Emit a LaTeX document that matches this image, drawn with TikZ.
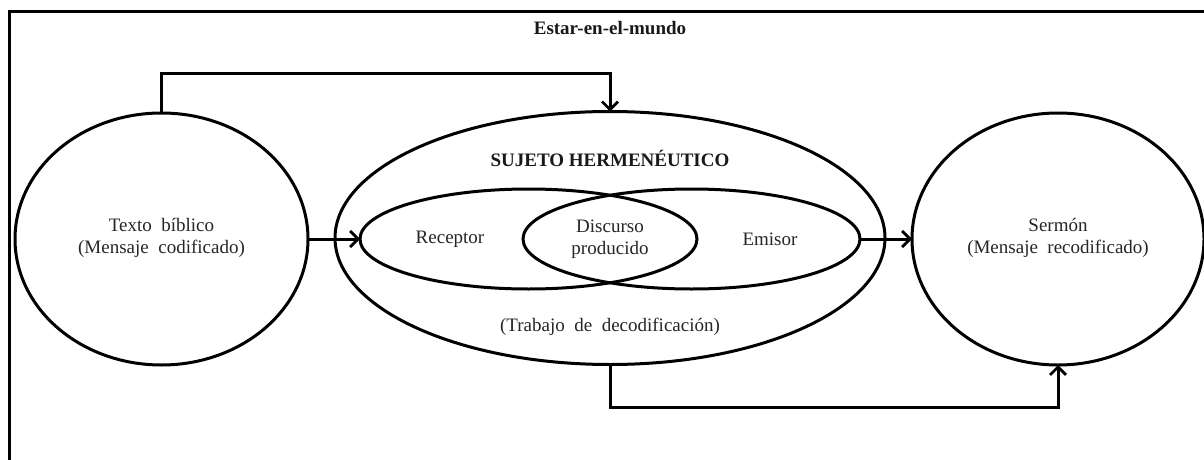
\documentclass[tikz,border=0pt]{standalone}
\usepackage{fontspec}
\setmainfont{Liberation Serif}
\usetikzlibrary{shapes.geometric,arrows.meta}
\tikzset{
  shp/.style={ellipse, draw, line width=3pt, inner sep=0pt, outer sep=0pt},
  conn/.style={line width=3pt, -{Straight Barb[length=8pt,width=16pt,line width=2.8pt]}},
  txt/.style={align=center, font=\fontsize{19}{22}\selectfont, text=black!85},
  btxt/.style={align=center, font=\fontsize{19}{22}\selectfont\bfseries, text=black!90}
}
\begin{document}
\begin{tikzpicture}[x=1pt,y=-1pt]
\clip (0,0) rectangle (1204,460);
\fill[white] (0,0) rectangle (1204,460);
\draw[line width=3pt] (9,480) -- (9,12) -- (1220,12);
\node[btxt] (title) at (610,28) {Estar-en-el-mundo};
\node[shp, minimum width=293pt, minimum height=252pt] (L) at (161.5,239) {};
\node[txt] (Ltxt) at (161.5,238) {Texto\ \ bíblico\\(Mensaje\ \ codificado)};
\node[shp, minimum width=292pt, minimum height=252pt] (R) at (1058,239) {};
\node[txt] (Rtxt) at (1058,238) {Sermón\\(Mensaje\ \ recodificado)};
\node[shp, minimum width=550pt, minimum height=253pt] (B) at (610,238) {};
\node[btxt] (Btxt) at (610,158) {SUJETO HERMENÉUTICO};
\node[txt] (Bsub) at (610,327) {(Trabajo\ \ de\ \ decodificación)};
\node[shp, minimum width=337pt, minimum height=100pt] (IL) at (528.5,239) {};
\node[shp, minimum width=337pt, minimum height=100pt] (IR) at (691.5,239) {};
\node[txt] (rec) at (450,239) {Receptor};
\node[txt] (dis) at (610,239) {Discurso\\producido};
\node[txt] (emi) at (770,239) {Emisor};
\coordinate (yt) at (0,73);
\coordinate (yb) at (0,407);
\draw[conn] (L.north) -- (L.north |- yt) -| (B.north);
\draw[conn] (B.south) -- (B.south |- yb) -| (R.south);
\draw[conn] (L.east) -- (IL.west);
\draw[conn] (IR.east) -- (R.west);
\end{tikzpicture}
\end{document}
